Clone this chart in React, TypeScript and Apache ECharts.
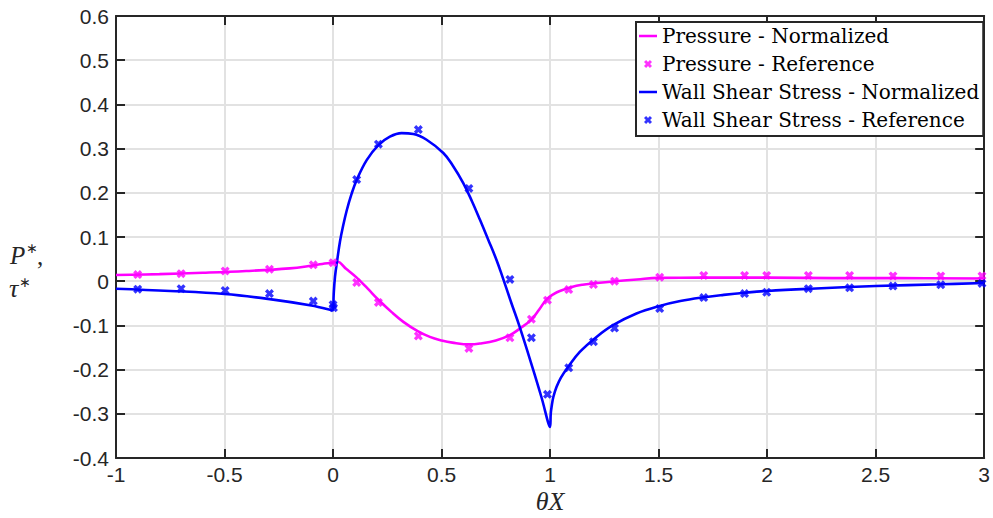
import React, { useEffect, useRef } from "react";
import * as echarts from "echarts";

const pressureLineX = [-1, -0.8, -0.6, -0.4, -0.2, -0.1, -0.05, 0, 0.02, 0.06, 0.109, 0.16, 0.209, 0.27, 0.324, 0.39, 0.446, 0.5, 0.55, 0.63, 0.677, 0.75, 0.815, 0.861, 0.914, 0.95, 0.984, 1.02, 1.045, 1.1, 1.15, 1.2, 1.3, 1.4, 1.5, 1.7, 2.0, 2.3, 2.6, 3.0];
const pressureLineY = [0.014, 0.016, 0.019, 0.023, 0.029, 0.035, 0.039, 0.042, 0.044, 0.028, 0.008, -0.017, -0.042, -0.07, -0.092, -0.113, -0.126, -0.134, -0.139, -0.143, -0.141, -0.134, -0.122, -0.107, -0.087, -0.064, -0.041, -0.028, -0.022, -0.013, -0.008, -0.005, 0.0, 0.004, 0.0075, 0.008, 0.008, 0.007, 0.007, 0.006];

const shearLineX = [-1, -0.75, -0.5, -0.3, -0.1, 0, 0.003, 0.009, 0.02, 0.032, 0.045, 0.063, 0.085, 0.109, 0.155, 0.209, 0.262, 0.316, 0.37, 0.431, 0.508, 0.55, 0.6, 0.64, 0.677, 0.715, 0.754, 0.78, 0.82, 0.861, 0.922, 0.96, 1.0, 1.003, 1.007, 1.015, 1.03, 1.05, 1.083, 1.137, 1.214, 1.29, 1.398, 1.505, 1.6, 1.7, 1.8, 1.9, 2.0, 2.2, 2.5, 2.8, 3.0];
const shearLineY = [-0.017, -0.022, -0.029, -0.04, -0.055, -0.066, -0.03, 0.01, 0.05, 0.09, 0.122, 0.16, 0.197, 0.229, 0.274, 0.308, 0.327, 0.335, 0.333, 0.32, 0.29, 0.263, 0.222, 0.181, 0.139, 0.094, 0.047, 0.011, -0.047, -0.105, -0.2, -0.262, -0.33, -0.3, -0.284, -0.262, -0.239, -0.218, -0.194, -0.16, -0.126, -0.0995, -0.073, -0.056, -0.045, -0.037, -0.031, -0.026, -0.022, -0.017, -0.011, -0.007, -0.004];

const pressureRefX = [-0.9, -0.7, -0.497, -0.293, -0.091, 0, 0.109, 0.209, 0.393, 0.626, 0.815, 0.914, 0.988, 1.086, 1.2, 1.297, 1.505, 1.708, 1.896, 1.998, 2.19, 2.38, 2.58, 2.8, 2.99];
const pressureRefY = [0.015, 0.017, 0.023, 0.027, 0.037, 0.042, -0.003, -0.048, -0.124, -0.152, -0.128, -0.086, -0.043, -0.019, -0.0075, 0.0, 0.009, 0.013, 0.013, 0.013, 0.013, 0.013, 0.012, 0.012, 0.012];

const shearRefX = [-0.9, -0.7, -0.497, -0.293, -0.091, 0, 0.002, 0.109, 0.209, 0.393, 0.626, 0.815, 0.914, 0.988, 1.086, 1.2, 1.297, 1.505, 1.708, 1.896, 1.998, 2.19, 2.38, 2.58, 2.8, 2.99];
const shearRefY = [-0.018, -0.017, -0.021, -0.028, -0.045, -0.053, -0.06, 0.23, 0.31, 0.343, 0.21, 0.004, -0.128, -0.256, -0.196, -0.137, -0.106, -0.062, -0.037, -0.028, -0.025, -0.017, -0.015, -0.011, -0.008, -0.005];

const seriesNames = [
  "Pressure - Normalized",
  "Pressure - Reference",
  "Wall Shear Stress - Normalized",
  "Wall Shear Stress - Reference",
];

const X_MIN = -1, X_MAX = 3, X_STEP = 0.5;
const Y_MIN = -0.4, Y_MAX = 0.6, Y_STEP = 0.1;

const MAGENTA = "#ff00ff";
const BLUE = "#0000ff";
const AXIS = "#262626";
const GRID = "#e2e2e2";
const CROSS = "path://M0,2.6L2.6,0L5,2.4L7.4,0L10,2.6L7.6,5L10,7.4L7.4,10L5,7.6L2.6,10L0,7.4L2.4,5Z";
const LINE_ICON = "path://M0,0H20V2.8H0Z";

const zip = (xs: number[], ys: number[]) => xs.map((x, i) => [x, ys[i]]);

export default function App() {
  const ref = useRef<HTMLDivElement>(null);
  useEffect(() => {
    if (!ref.current) return;
    const chart = echarts.init(ref.current, undefined, { renderer: "svg" });
    const tickFont = { fontFamily: "Liberation Sans", fontSize: 21, color: "#262626" };
    const baseX = { type: "value" as const, min: X_MIN, max: X_MAX, interval: X_STEP };
    const baseY = { type: "value" as const, min: Y_MIN, max: Y_MAX, interval: Y_STEP };
    const axisLine = { show: true, onZero: false, lineStyle: { color: AXIS, width: 2 } };
    const axisTick = { show: true, inside: true, length: 9, lineStyle: { color: AXIS, width: 2 } };
    const italic = (text: string, x: number, y: number, size: number, align = "left") => ({
      type: "text",
      x,
      y,
      style: {
        text,
        fontFamily: "Liberation Serif",
        fontStyle: "italic",
        fontSize: size,
        fill: "#262626",
        align,
        verticalAlign: "middle",
      },
    });
    const star = (x: number, y: number) => ({
      type: "text",
      x,
      y,
      style: {
        text: "∗",
        fontFamily: "DejaVu Sans",
        fontSize: 14,
        fill: "#262626",
        align: "center",
        verticalAlign: "middle",
      },
    });
    chart.setOption({
      animation: false,
      backgroundColor: "#fff",
      grid: { left: 116, right: 8, top: 16, bottom: 60, containLabel: false },
      xAxis: [
        {
          ...baseX,
          position: "bottom",
          axisLine,
          axisTick,
          axisLabel: { ...tickFont, margin: 6 },
          splitLine: { show: true, lineStyle: { color: GRID, width: 2 } },
        },
        {
          ...baseX,
          position: "top",
          axisLine,
          axisTick,
          axisLabel: { show: false },
          splitLine: { show: false },
        },
      ],
      yAxis: [
        {
          ...baseY,
          position: "left",
          axisLine,
          axisTick,
          axisLabel: { ...tickFont, margin: 7 },
          splitLine: { show: true, lineStyle: { color: GRID, width: 2 } },
        },
        {
          ...baseY,
          position: "right",
          axisLine,
          axisTick,
          axisLabel: { show: false },
          splitLine: { show: false },
        },
      ],
      legend: {
        orient: "vertical",
        left: 636,
        top: 22,
        backgroundColor: "#fff",
        borderColor: AXIS,
        borderWidth: 2,
        borderRadius: 0,
        padding: [4, 4, 6, 3],
        itemGap: 8,
        itemWidth: 18,
        itemHeight: 8,
        symbolKeepAspect: true,
        textStyle: { fontFamily: "DejaVu Serif", fontSize: 20, color: "#000" },
        data: [
          { name: seriesNames[0], icon: LINE_ICON },
          { name: seriesNames[1], icon: CROSS },
          { name: seriesNames[2], icon: LINE_ICON },
          { name: seriesNames[3], icon: CROSS },
        ],
      },
      series: [
        {
          name: seriesNames[0],
          type: "line",
          data: zip(pressureLineX, pressureLineY),
          symbol: "none",
          smooth: 0.4,
          lineStyle: { color: MAGENTA, width: 2.6 },
          itemStyle: { color: MAGENTA },
          z: 3,
        },
        {
          name: seriesNames[1],
          type: "scatter",
          data: zip(pressureRefX, pressureRefY),
          symbol: CROSS,
          symbolSize: 9,
          symbolKeepAspect: true,
          itemStyle: { color: MAGENTA },
          z: 4,
        },
        {
          name: seriesNames[2],
          type: "line",
          data: zip(shearLineX, shearLineY),
          symbol: "none",
          smooth: 0.4,
          lineStyle: { color: BLUE, width: 2.6 },
          itemStyle: { color: BLUE },
          z: 3,
        },
        {
          name: seriesNames[3],
          type: "scatter",
          data: zip(shearRefX, shearRefY),
          symbol: CROSS,
          symbolSize: 9,
          symbolKeepAspect: true,
          itemStyle: { color: BLUE },
          z: 4,
        },
      ],
      graphic: [
        italic("θX", 550, 501, 26, "center"),
        italic("P", 10, 255, 25),
        star(32, 248),
        {
          type: "text",
          x: 37,
          y: 256,
          style: {
            text: ",",
            fontFamily: "Liberation Serif",
            fontSize: 25,
            fill: "#262626",
            align: "left",
            verticalAlign: "middle",
          },
        },
        italic("τ", 9, 288, 26),
        star(25, 282),
      ],
    });
    return () => chart.dispose();
  }, []);
  return (
    <div
      ref={ref}
      style={{ position: "fixed", left: 0, top: 0, width: 993, height: 518, background: "#fff" }}
    />
  );
}
